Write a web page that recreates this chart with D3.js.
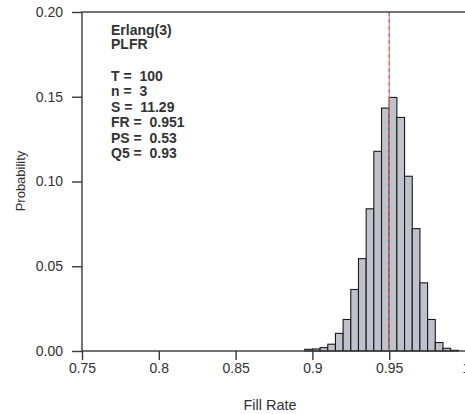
<!DOCTYPE html>
<html>
<head>
<meta charset="utf-8">
<script src="https://cdn.jsdelivr.net/npm/d3@7"></script>
<style>
    body { margin: 0; background: #fff; }
    text { font-family: "Liberation Sans", Arial, sans-serif; fill: #333; }
</style>
</head>
<body>
<div id="chart-container"></div>
<script>
// Histogram bins (left edge of each 0.005-wide bin) and probabilities
var binStarts = [0.895, 0.900, 0.905, 0.910, 0.915, 0.920, 0.925, 0.930, 0.935, 0.940,
                 0.945, 0.950, 0.955, 0.960, 0.965, 0.970, 0.975, 0.980, 0.985, 0.990];
var binProbs  = [0.0010, 0.0012, 0.0020, 0.0040, 0.0104, 0.0186, 0.0363, 0.0545, 0.0839, 0.1178,
                 0.1433, 0.1496, 0.1378, 0.1031, 0.0722, 0.0402, 0.0186, 0.0050, 0.0016, 0.0004];
var binWidth = 0.005;

var xTicks = [0.75, 0.8, 0.85, 0.9, 0.95, 1.0];
var xTickLabels = ['0.75', '0.8', '0.85', '0.9', '0.95', '1'];
var yTicks = [0, 0.05, 0.10, 0.15, 0.20];
var yTickLabels = ['0.00', '0.05', '0.10', '0.15', '0.20'];

var refLine = 0.95;
var infoLines = ['Erlang(3)', 'PLFR', '', 'T =  100', 'n =  3', 'S =  11.29', 'FR =  0.951', 'PS =  0.53', 'Q5 =  0.93'];

function renderChart() {
    var width = 465;
    var height = 414;
    var plotLeft = 82, plotTop = 12, plotRight = 466, plotBottom = 351;

    var svg = d3.select('#chart-container')
        .append('svg')
        .attr('width', width)
        .attr('height', height);

    var x = d3.scaleLinear().domain([0.75, 1.0]).range([plotLeft, plotRight]);
    var y = d3.scaleLinear().domain([0, 0.20]).range([plotBottom, plotTop]);

    var bins = binStarts.map(function(s, i) { return { x0: s, x1: s + binWidth, p: binProbs[i] }; });

    // bars
    svg.append('g')
        .selectAll('rect')
        .data(bins)
        .enter()
        .append('rect')
        .attr('x', function(d) { return x(d.x0); })
        .attr('y', function(d) { return y(d.p); })
        .attr('width', function(d) { return x(d.x1) - x(d.x0); })
        .attr('height', function(d) { return y(0) - y(d.p); })
        .attr('fill', '#bfc1cb')
        .attr('stroke', '#1a1a1a')
        .attr('stroke-width', 1.1);

    // reference line (thin solid + red dashes on top)
    svg.append('line')
        .attr('x1', x(refLine)).attr('x2', x(refLine))
        .attr('y1', plotTop).attr('y2', plotBottom)
        .attr('stroke', '#8f9a80')
        .attr('stroke-width', 1);
    svg.append('line')
        .attr('x1', x(refLine)).attr('x2', x(refLine))
        .attr('y1', plotTop).attr('y2', plotBottom)
        .attr('stroke', '#e26a6a')
        .attr('stroke-width', 1.3)
        .attr('stroke-dasharray', '4,3');

    // frame
    svg.append('rect')
        .attr('x', plotLeft).attr('y', plotTop)
        .attr('width', plotRight - plotLeft).attr('height', plotBottom - plotTop)
        .attr('fill', 'none')
        .attr('stroke', '#3a3a3a')
        .attr('stroke-width', 1.4);

    // y axis
    var yAxis = d3.axisLeft(y)
        .tickValues(yTicks)
        .tickFormat(function(d, i) { return yTickLabels[i]; })
        .tickSize(10)
        .tickPadding(9);
    var gy = svg.append('g')
        .attr('transform', 'translate(' + plotLeft + ',0)')
        .call(yAxis);
    gy.select('.domain').remove();
    gy.selectAll('line').attr('stroke', '#3a3a3a').attr('stroke-width', 1.4);
    gy.selectAll('text').style('font-size', '14px').attr('fill', '#3a3a3a');

    // x axis
    var xAxis = d3.axisBottom(x)
        .tickValues(xTicks)
        .tickFormat(function(d, i) { return xTickLabels[i]; })
        .tickSize(9)
        .tickPadding(3);
    var gx = svg.append('g')
        .attr('transform', 'translate(0,' + plotBottom + ')')
        .call(xAxis);
    gx.select('.domain').remove();
    gx.selectAll('line').attr('stroke', '#3a3a3a').attr('stroke-width', 1.4);
    gx.selectAll('text').style('font-size', '14px').attr('fill', '#3a3a3a');

    // axis titles
    svg.append('text')
        .attr('x', 270)
        .attr('y', 410)
        .attr('text-anchor', 'middle')
        .style('font-size', '14.5px')
        .text('Fill Rate');

    svg.append('text')
        .attr('transform', 'translate(25,181) rotate(-90)')
        .attr('text-anchor', 'middle')
        .style('font-size', '13px')
        .text('Probability');

    // info text block
    var infoY = [35, 48.5, 0, 81, 96, 111.5, 127, 142.5, 158];
    svg.append('g')
        .selectAll('text')
        .data(infoLines.filter(function(d) { return d !== ''; }))
        .enter()
        .append('text')
        .attr('x', 111)
        .attr('y', function(d) { return infoY[infoLines.indexOf(d)]; })
        .style('font-size', '14px')
        .style('font-weight', 'bold')
        .style('white-space', 'pre')
        .attr('fill', '#222')
        .text(function(d) { return d; });
}

renderChart();
</script>
</body>
</html>
